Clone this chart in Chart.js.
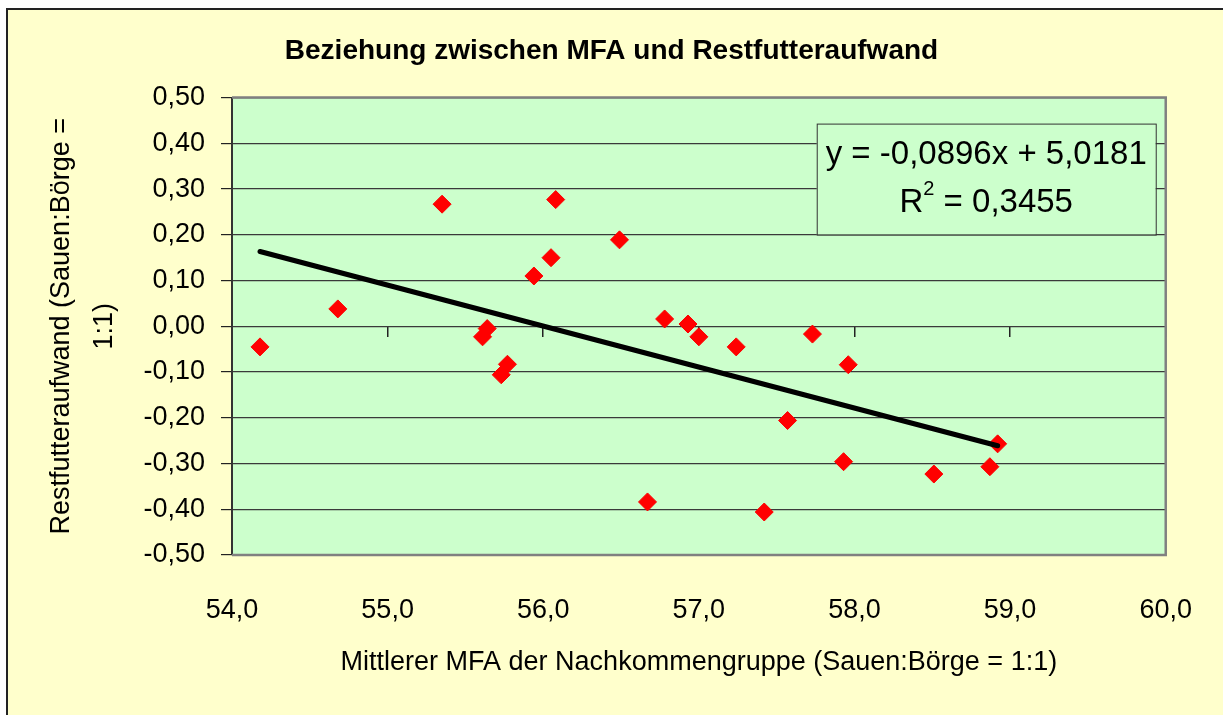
<!DOCTYPE html>
<html>
<head>
<meta charset="utf-8">
<title>Beziehung zwischen MFA und Restfutteraufwand</title>
<script src="https://cdn.jsdelivr.net/npm/chart.js@4.4.1/dist/chart.umd.min.js"></script>
<style>
  html, body { margin: 0; padding: 0; background: #fff; }
  canvas { display: block; }
</style>
</head>
<body>
<canvas id="mfaChart" width="1223" height="715"></canvas>
<script>
// Mittlerer MFA der Nachkommengruppe (x) und Restfutteraufwand (y)
var mfaValues = [54.18, 54.68, 55.35, 56.08, 56.49, 56.05, 55.94, 55.64, 55.61, 55.77, 55.73,
  56.78, 56.93, 57.00, 57.24, 57.73, 57.96, 57.57, 57.93, 56.67, 57.42, 58.51, 58.87, 58.92];
var restValues = [-0.045, 0.038, 0.267, 0.277, 0.189, 0.150, 0.110, -0.005, -0.023, -0.083, -0.106,
  0.016, 0.005, -0.023, -0.045, -0.017, -0.084, -0.206, -0.296, -0.384, -0.406, -0.323, -0.307, -0.257];

// linear trend as printed in the chart
var trendSlope = -0.0896;
var trendIntercept = 5.0181;
var trendLabel = "y = -0,0896x + 5,0181";
var rSquaredLabel = "0,3455";

var xTicks = [54, 55, 56, 57, 58, 59, 60];
var yTicks = [-0.5, -0.4, -0.3, -0.2, -0.1, 0, 0.1, 0.2, 0.3, 0.4, 0.5];

var chartTitle = "Beziehung zwischen MFA und Restfutteraufwand";
var xTitle = "Mittlerer MFA der Nachkommengruppe (Sauen:Börge = 1:1)";
var yTitle = ["Restfutteraufwand (Sauen:Börge =", "1:1)"];

var FONT = "'Liberation Sans', Arial, sans-serif";

function comma(v, digits) {
  return v.toFixed(digits).replace(".", ",");
}

var points = mfaValues.map(function (x, i) {
  return { x: x, y: restValues[i] };
});
var xMin = Math.min.apply(null, mfaValues);
var xMax = Math.max.apply(null, mfaValues);
var trendPoints = [
  { x: xMin, y: trendSlope * xMin + trendIntercept },
  { x: xMax, y: trendSlope * xMax + trendIntercept }
];

var excelLook = {
  id: "excelLook",
  beforeDraw: function (chart) {
    var ctx = chart.ctx;
    var a = chart.chartArea;
    ctx.save();
    ctx.fillStyle = "#ffffff";
    ctx.fillRect(0, 0, chart.width, chart.height);
    ctx.fillStyle = "#FFFFCC";
    ctx.fillRect(7, 9, chart.width, chart.height);
    ctx.strokeStyle = "#222";
    ctx.lineWidth = 2;
    ctx.beginPath();
    ctx.moveTo(7, chart.height);
    ctx.lineTo(7, 9);
    ctx.lineTo(chart.width, 9);
    ctx.stroke();
    ctx.fillStyle = "#CCFFCC";
    ctx.fillRect(a.left, a.top, a.right - a.left, a.bottom - a.top);
    ctx.restore();
  },
  beforeDatasetsDraw: function (chart) {
    var ctx = chart.ctx;
    var a = chart.chartArea;
    ctx.save();
    ctx.strokeStyle = "#808080";
    ctx.lineWidth = 2.5;
    ctx.beginPath();
    ctx.moveTo(a.left, a.top);
    ctx.lineTo(a.right, a.top);
    ctx.lineTo(a.right, a.bottom);
    ctx.lineTo(a.left, a.bottom);
    ctx.stroke();
    ctx.restore();
  },
  afterDraw: function (chart) {
    // trendline label box, upper right of the plot
    var ctx = chart.ctx;
    var a = chart.chartArea;
    var left = a.right - 349, top = a.top + 26, w = 339, h = 111;
    ctx.save();
    ctx.fillStyle = "#CCFFCC";
    ctx.fillRect(left, top, w, h);
    ctx.strokeStyle = "#333";
    ctx.lineWidth = 1;
    ctx.strokeRect(left + 0.5, top + 0.5, w, h);

    var cx = left + w / 2;
    ctx.fillStyle = "#000";
    ctx.textBaseline = "middle";
    ctx.font = "33px " + FONT;
    ctx.textAlign = "center";
    ctx.fillText(trendLabel, cx, top + 31);

    var rest = " = " + rSquaredLabel;
    var wR = ctx.measureText("R").width;
    var wRest = ctx.measureText(rest).width;
    ctx.font = "20px " + FONT;
    var wSup = ctx.measureText("2").width;
    var x0 = cx - (wR + wSup + wRest) / 2;
    var yLine = top + 79;
    ctx.textAlign = "left";
    ctx.font = "33px " + FONT;
    ctx.fillText("R", x0, yLine);
    ctx.font = "20px " + FONT;
    ctx.fillText("2", x0 + wR, yLine - 13);
    ctx.font = "33px " + FONT;
    ctx.fillText(rest, x0 + wR + wSup, yLine);
    ctx.restore();
  }
};

new Chart(document.getElementById("mfaChart").getContext("2d"), {
  type: "scatter",
  data: {
    datasets: [
      {
        label: "Restfutteraufwand",
        data: points,
        pointStyle: "rectRot",
        pointRadius: 9,
        backgroundColor: "#FF0000",
        borderColor: "#FF0000",
        borderWidth: 1,
        order: 1
      },
      {
        label: "Linear",
        data: trendPoints,
        showLine: true,
        pointRadius: 0,
        borderColor: "#000000",
        borderWidth: 5,
        borderCapStyle: "round",
        order: 0
      }
    ]
  },
  options: {
    responsive: false,
    animation: false,
    events: [],
    layout: { padding: { left: 0, right: 0, top: 0, bottom: 0 } },
    plugins: {
      legend: { display: false },
      tooltip: { enabled: false },
      title: {
        display: true,
        text: chartTitle,
        color: "#000",
        font: { family: FONT, size: 28, weight: "bold", lineHeight: 1.2 },
        padding: { top: 34, bottom: 30 }
      }
    },
    scales: {
      x: {
        type: "linear",
        min: xTicks[0],
        max: xTicks[xTicks.length - 1],
        afterBuildTicks: function (scale) {
          scale.ticks = xTicks.map(function (v) { return { value: v }; });
        },
        grid: { display: false },
        border: { display: false },
        ticks: {
          color: "#000",
          padding: 31,
          maxRotation: 0,
          font: { family: FONT, size: 27 },
          callback: function (v) { return comma(v, 1); }
        },
        title: {
          display: true,
          text: xTitle,
          color: "#000",
          font: { family: FONT, size: 27, lineHeight: 1.2 },
          padding: { top: 0, bottom: 36 }
        },
        afterFit: function (scale) { scale.height = 160; }
      },
      xZero: {
        type: "linear",
        axis: "x",
        position: { y: 0 },
        min: xTicks[0],
        max: xTicks[xTicks.length - 1],
        afterBuildTicks: function (scale) {
          scale.ticks = xTicks.map(function (v) { return { value: v }; });
        },
        grid: { drawOnChartArea: false, drawTicks: true, tickLength: 11, color: "#222", lineWidth: 1.5 },
        border: { display: false },
        ticks: { display: false }
      },
      y: {
        type: "linear",
        min: yTicks[0],
        max: yTicks[yTicks.length - 1],
        afterBuildTicks: function (scale) {
          scale.ticks = yTicks.map(function (v) { return { value: v }; });
        },
        grid: { color: "#3a3a3a", lineWidth: 1.2, tickLength: 11, tickColor: "#222" },
        border: { display: true, color: "#333", width: 2 },
        ticks: {
          color: "#000",
          padding: 16,
          font: { family: FONT, size: 27 },
          callback: function (v) { return comma(v, 2); }
        },
        title: {
          display: true,
          text: yTitle,
          color: "#000",
          font: { family: FONT, size: 27, lineHeight: 1.6 },
          padding: { top: 40, bottom: 0 }
        },
        afterFit: function (scale) { scale.width = 232; }
      },
      yRight: {
        type: "linear",
        position: "right",
        display: true,
        grid: { display: false },
        border: { display: false },
        ticks: { display: false },
        afterFit: function (scale) { scale.width = 53; }
      }
    }
  },
  plugins: [excelLook]
});
</script>
</body>
</html>
